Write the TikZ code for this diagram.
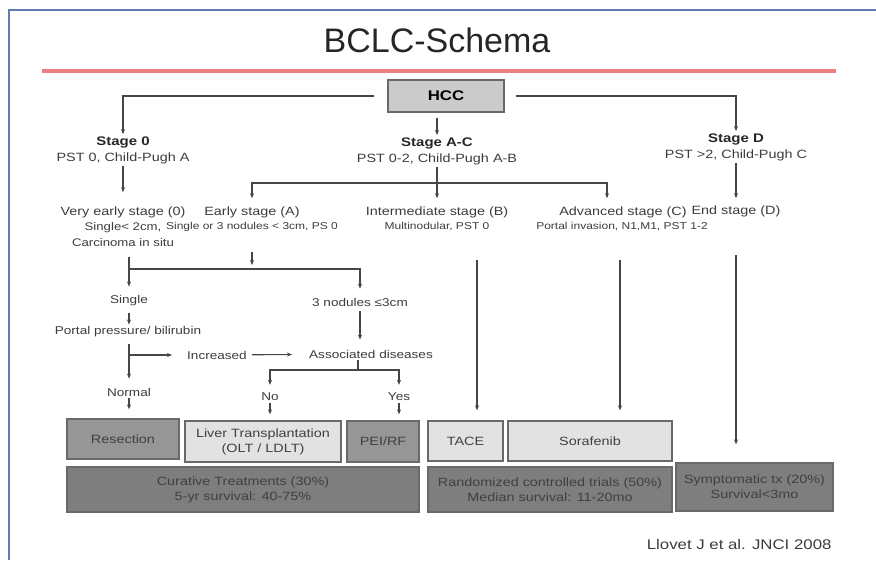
\documentclass[tikz,border=0pt]{standalone}
\usepackage{fontspec}
\setmainfont{Liberation Sans}[FakeStretch=1.2]
\newfontfamily\titlefont{Liberation Sans}
\usepackage{tikz}
\usetikzlibrary{arrows.meta,positioning}

\definecolor{framecol}{RGB}{100,122,180}
\definecolor{rulecol}{RGB}{236,128,128}
\definecolor{linecol}{RGB}{70,70,70}
\definecolor{txtcol}{RGB}{60,60,60}
\definecolor{boxline}{RGB}{105,105,105}
\definecolor{boxlight}{RGB}{226,226,226}
\definecolor{boxmid}{RGB}{150,150,150}
\definecolor{boxdark}{RGB}{126,126,126}

\begin{document}
\begin{tikzpicture}[x=1pt,y=-1pt,
    >={Stealth[length=5pt,width=4pt]},
    flow/.style={->,line width=1.1pt,draw=linecol},
    plain/.style={line width=1.1pt,draw=linecol},
    head/.style={inner sep=2pt,text=black!85,font=\bfseries\fontsize{12.5}{15}\selectfont},
    stagename/.style={inner sep=2pt,text=txtcol,font=\fontsize{12}{15}\selectfont},
    low/.style={inner sep=2pt,text=txtcol,font=\fontsize{11.3}{14}\selectfont},
    detail/.style={inner sep=2pt,text=txtcol,align=center,font=\fontsize{11}{16}\selectfont},
    tiny/.style={inner sep=2pt,text=txtcol,font=\fontsize{10}{12}\selectfont},
    tbox/.style={draw=boxline,line width=1.3pt,minimum height=40pt,align=center,
      text=black!75,font=\fontsize{12}{15}\selectfont},
    lightbox/.style={tbox,fill=boxlight},
    midbox/.style={tbox,fill=boxmid},
    darkbox/.style={tbox,fill=boxdark}]
      \useasboundingbox (0,0) rectangle (876,560);
      \draw[framecol,line width=2.5pt] (9,560) -- (9,10) -- (876,10);
      \draw[rulecol,line width=4pt] (42,71) -- (836,71);
      \node[text=black!85,font=\titlefont\fontsize{34}{40}\selectfont] at (437,40) (title) {BCLC-Schema};
      \node[draw=boxline,fill=boxlight!90!black,line width=1.3pt,minimum width=116pt,minimum height=32pt,
        font=\bfseries\fontsize{14}{16}\selectfont] at (446,96) (hcc) {HCC};
      \node[head] at (123,142) (s0) {Stage 0};
      \node[stagename] at (123,158) (p0) {PST 0, Child-Pugh A};
      \node[head] at (437,143) (sac) {Stage A-C};
      \node[stagename] at (437,159) (pac) {PST 0-2, Child-Pugh A-B};
      \node[head] at (736,139) (sd) {Stage D};
      \node[stagename] at (736,155) (pd) {PST >2, Child-Pugh C};
      \node[stagename] at (123,212) (ve) {Very early stage (0)};
      \node[detail] at (123,235) (ved) {Single< 2cm,\\Carcinoma in situ};
      \node[stagename] at (252,212) (ea) {Early stage (A)};
      \node[tiny] at (252,227) (ead) {Single or 3 nodules < 3cm, PS 0};
      \node[stagename] at (437,212) (in) {Intermediate stage (B)};
      \node[tiny] at (437,227) (ind) {Multinodular, PST 0};
      \node[stagename] at (623,212) (adv) {Advanced stage (C)};
      \node[tiny] at (622,227) (advd) {Portal invasion, N1,M1, PST 1-2};
      \node[stagename] at (736,211) (es) {End stage (D)};
      \node[low] at (129,301) (sg) {Single};
      \node[low] at (360,302) (n3) {3 nodules ≤3cm};
      \node[low] at (128,332) (pp) {Portal pressure/ bilirubin};
      \node[low] at (217,355) (inc) {Increased};
      \node[low] at (371,354) (ad) {Associated diseases};
      \node[low] at (129,392) (nm) {Normal};
      \node[low] at (270,397) (no) {No};
      \node[low] at (399,397) (yes) {Yes};
      \node[midbox,minimum width=112pt] at (123,439) (res) {Resection};
      \node[lightbox,minimum width=156pt,minimum height=41pt] at (263,441.5) (olt) {Liver Transplantation\\(OLT / LDLT)};
      \node[midbox,minimum width=72pt,minimum height=41pt] at (383,441.5) (pei) {PEI/RF};
      \node[darkbox,minimum width=352pt,minimum height=45pt] at (243,489.5) (cur) {Curative Treatments (30\%)\\5-yr survival: 40-75\%};
      \node[lightbox,minimum width=75pt] at (465.5,441) (tace) {TACE};
      \node[lightbox,minimum width=164pt] at (590,441) (sor) {Sorafenib};
      \node[darkbox,minimum width=244pt,minimum height=45pt] at (550,489.5) (rct) {Randomized controlled trials (50\%)\\Median survival: 11-20mo};
      \node[darkbox,minimum width=157pt,minimum height=48pt] at (754.5,487) (sym) {Symptomatic tx (20\%)\\Survival<3mo};
      \node[anchor=east,text=txtcol,font=\fontsize{14}{16}\selectfont] at (835,544) (src) {Llovet J et al. JNCI 2008};
      \coordinate (acs) at (437,183);
      \coordinate (eas) at (252,269);
      \coordinate (ves) at (129,269);
      \coordinate (pps) at (129,355);
      \coordinate (ads) at (358,370);
      \coordinate (tacetop) at (477,260);
      \coordinate (sortop) at (620,260);
      \coordinate (symtop) at (736,255);
      \draw[flow,shorten <=13pt] (hcc.west) -| (s0);
      \draw[flow,shorten <=11pt] (hcc.east) -| (sd);
      \draw[flow,shorten <=5pt] (hcc.south -| sac) -- (sac);
      \draw[flow,shorten >=12pt] (p0) -- (ve);
      \draw[plain] (pac) -- (acs);
      \draw[flow,shorten >=6pt] (acs) -| (ea);
      \draw[flow,shorten >=6pt] (acs) -- (in);
      \draw[flow,shorten >=6pt] (acs) -| ([xshift=-16pt]adv.north);
      \draw[flow,shorten >=5pt] (pd) -- (es);
      \draw[flow,shorten <=18pt,shorten >=4pt] (ead) -- (eas);
      \draw[plain] (ves) -- (eas);
      \draw[flow,shorten <=8pt,shorten >=7pt] (ved.south -| sg) -- (sg);
      \draw[flow,shorten >=7pt] (eas) -| (n3);
      \draw[flow,shorten <=5pt] (sg) -- (sg |- pp.north);
      \draw[flow,shorten <=5pt,shorten >=7pt] (pp.south -| nm) -- (nm);
      \draw[flow,shorten >=13pt] (pps) -- (inc);
      \draw[flow,shorten <=3pt,shorten >=15pt] (inc) -- (ad);
      \draw[flow,shorten <=3pt,shorten >=8pt] (n3) -- (n3 |- ad.north);
      \draw[plain] (ad.south -| ads) -- (ads);
      \draw[flow,shorten >=6pt] (ads) -| (no);
      \draw[flow,shorten >=6pt] (ads) -| (yes);
      \draw[flow,shorten >=9pt] (nm) -- (nm |- res.north);
      \draw[flow,shorten >=6pt] (no) -- (no |- olt.north);
      \draw[flow,shorten >=6pt] (yes) -- (yes |- pei.north);
      \draw[flow,shorten >=10pt] (tacetop) -- (tacetop |- tace.north);
      \draw[flow,shorten >=10pt] (sortop) -- (sortop |- sor.north);
      \draw[flow,shorten >=18pt] (symtop) -- (symtop |- sym.north);
\end{tikzpicture}
\end{document}
